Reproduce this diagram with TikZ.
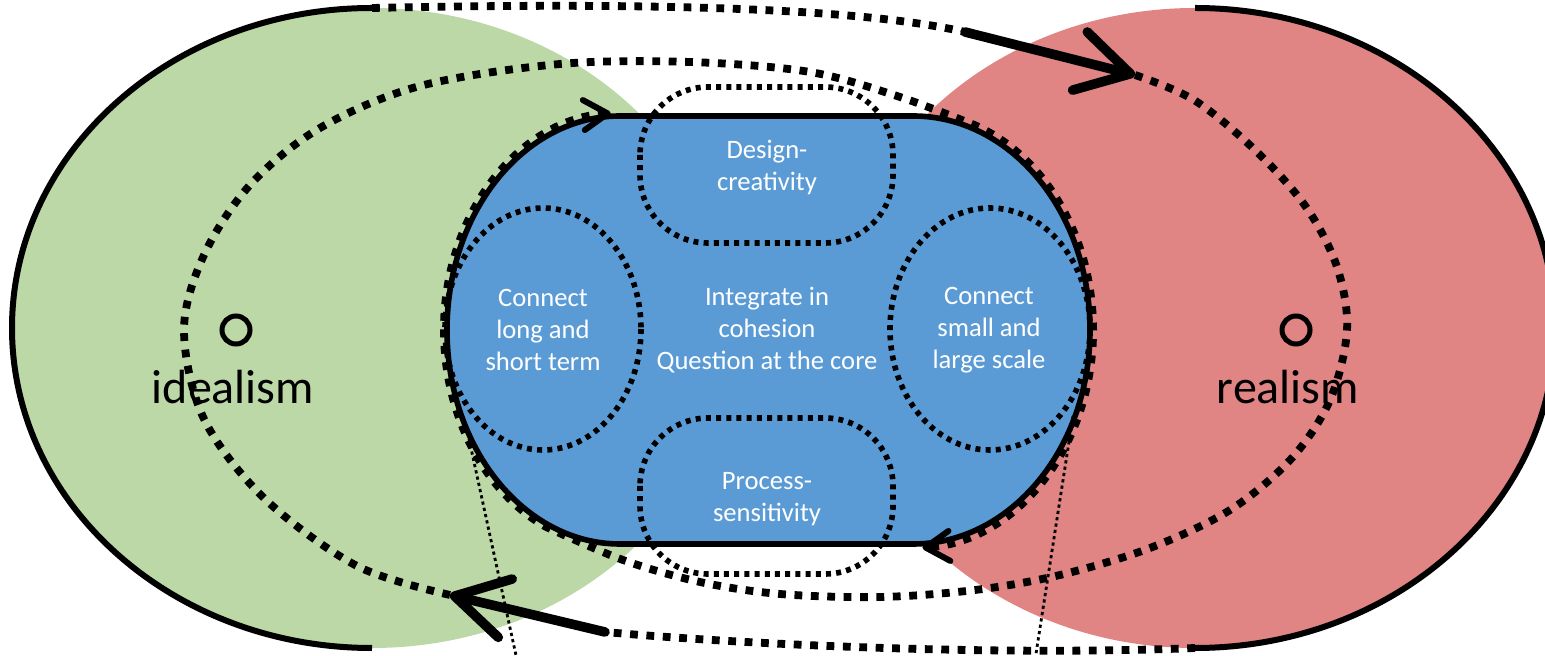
\documentclass[tikz,border=0pt]{standalone}
\usepackage{fontspec}
\setmainfont{Carlito}
\usetikzlibrary{arrows.meta}
\definecolor{gfill}{RGB}{187,216,166}
\definecolor{rfill}{RGB}{224,132,132}
\definecolor{bfill}{RGB}{91,155,213}
\begin{document}
\begin{tikzpicture}[x=0.5pt,y=-0.5pt,
  bigdot/.style={line width=3.9pt, dash pattern=on 3.9pt off 4.3pt},
  smalldot/.style={line width=2.8pt, dash pattern=on 2.5pt off 2.6pt},
  thindot/.style={line width=1.4pt, dash pattern=on 1.6pt off 1.6pt},
  solidarc/.style={line width=3pt},
  bigarrow/.style={line width=4.8pt, line cap=round, -{Straight Barb[length=26pt,width=30pt,round]}},
  smallarrow/.style={-{Straight Barb[length=12pt,width=15pt,round,line width=3pt]}},
  innertext/.style={text=white, align=center, font=\fontsize{13.3}{16}\selectfont},
  poletext/.style={text=black, font=\fontsize{24}{28}\selectfont}
]
\useasboundingbox (0,0) rectangle (1545,656);

% coloured regions
\fill[gfill] (372,328) ellipse [x radius=360, y radius=320];
\fill[rfill] (1195,328) ellipse [x radius=360, y radius=320];

% blue core
\filldraw[fill=bfill, line width=2.8pt] (620,116) -- (913,116)
  arc[start angle=-90, end angle=90, x radius=177, y radius=214] -- (620,544)
  arc[start angle=90, end angle=270, x radius=173, y radius=214] -- cycle;

% inner dotted shapes
\draw[smalldot, rounded corners=34pt] (640,87) rectangle (893,243);
\draw[smalldot, rounded corners=34pt] (640,418) rectangle (893,574);
\draw[smalldot] (543,329) ellipse [x radius=98, y radius=121];
\draw[smalldot] (990,329) ellipse [x radius=100, y radius=121];

% texts
\node[innertext] (design) at (767,167) {Design-\\creativity};
\node[innertext] (process) at (767,499) {Process-\\sensitivity};
\node[innertext] (longshort) at (543,330) {Connect\\long and\\short term};
\node[innertext] (core) at (767,330) {Integrate in\\cohesion\\Question at the core};
\node[innertext] (smalllarge) at (989,330) {Connect\\small and\\large scale};
\node[poletext] (ideal) at (233,387) {idealism};
\node[poletext] (real) at (1288,387) {realism};

% pole markers
\draw[line width=2.5pt] (236,330) circle [radius=14];
\draw[line width=2.5pt] (1296,330) circle [radius=14];

% coordinates
\coordinate (Ltop) at (372,8);
\coordinate (Lbot) at (372,648);
\coordinate (Rtop) at (1195,8);
\coordinate (Rbot) at (1195,648);
\coordinate (Tbreak) at (965,32);
\coordinate (Ttip) at (1135,75);
\coordinate (Bbreak) at (605,632);
\coordinate (Btip) at (450,595);

% outer loop
\draw[solidarc] (Ltop) arc[start angle=270, end angle=90, x radius=360, y radius=320];
\draw[solidarc] (Rtop) arc[start angle=-90, end angle=90, x radius=360, y radius=320];
\draw[bigdot] (Ltop) .. controls (650,2) and (860,8) .. (Tbreak);
\draw[bigarrow] (Tbreak) -- (Ttip);
\draw[bigdot] (Rbot) .. controls (1000,656) and (750,645) .. (Bbreak);
\draw[bigarrow] (Bbreak) -- (Btip);

% idealism loop
\draw[bigdot, smallarrow] plot[smooth, tension=0.55] coordinates {(Btip) (357,566) (265,499) (204,419) (184,330) (204,255) (250,185) (320,128) (420,86) (560,64) (690,62) (810,72) (900,97) (974.6,125.1)}
  arc[start angle=-70, end angle=87, x radius=180, y radius=218];

% realism loop
\draw[bigdot, smallarrow] plot[smooth, tension=0.55] coordinates {(Ttip) (1194,100) (1255,150) (1306,207) (1337,267) (1347,330) (1330,400) (1291,459) (1230,510) (1150,548) (1060,575) (975,590) (880,597) (780,594) (700,582) (623,560) (545.6,526.7)}
  arc[start angle=115, end angle=267, x radius=176, y radius=217];

% thin dotted lines
\draw[thindot] (469,439) -- (517,660);
\draw[thindot] (1073,416) -- (1035,660);
\end{tikzpicture}
\end{document}
